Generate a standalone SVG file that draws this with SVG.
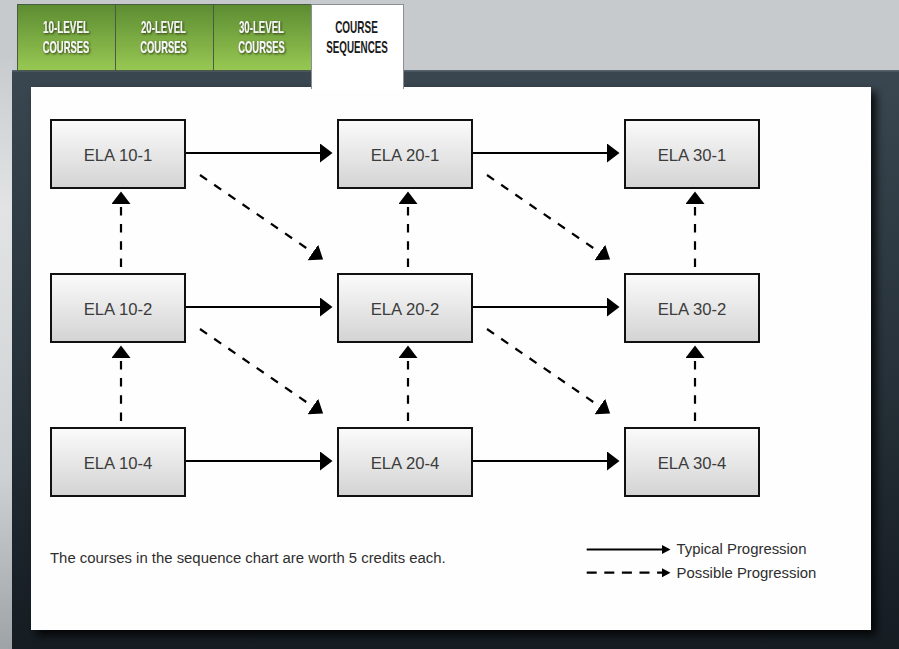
<svg xmlns="http://www.w3.org/2000/svg" width="899" height="649" viewBox="0 0 899 649">
<defs>
  <linearGradient id="bgLeft" x1="0" y1="0" x2="0" y2="1">
    <stop offset="0" stop-color="#c9ccce"/>
    <stop offset="0.25" stop-color="#e1e3e5"/>
    <stop offset="0.7" stop-color="#cfd2d4"/>
    <stop offset="1" stop-color="#9ea3a7"/>
  </linearGradient>
  <linearGradient id="dark" x1="0" y1="0" x2="0" y2="1">
    <stop offset="0" stop-color="#3a4750"/>
    <stop offset="0.5" stop-color="#27323a"/>
    <stop offset="1" stop-color="#151c22"/>
  </linearGradient>
  <linearGradient id="green" x1="0" y1="0" x2="0" y2="1">
    <stop offset="0" stop-color="#5c8c31"/>
    <stop offset="1" stop-color="#98c853"/>
  </linearGradient>
  <linearGradient id="boxfill" x1="0" y1="0" x2="0" y2="1">
    <stop offset="0" stop-color="#fbfbfb"/>
    <stop offset="1" stop-color="#d3d3d3"/>
  </linearGradient>
  <filter id="panelShadow" x="-5%" y="-5%" width="115%" height="115%">
    <feDropShadow dx="5" dy="5" stdDeviation="4" flood-color="#000" flood-opacity="0.85"/>
  </filter>
  <filter id="txtShadow" x="-10%" y="-20%" width="130%" height="150%">
    <feDropShadow dx="1" dy="1" stdDeviation="0.8" flood-color="#1c2a10" flood-opacity="0.9"/>
  </filter>
  <marker id="head" markerUnits="userSpaceOnUse" markerWidth="13" markerHeight="19" refX="0" refY="9.5" orient="auto">
    <path d="M0,0 L12.5,9.5 L0,19 Z" fill="#000"/>
  </marker>
  <marker id="headSmall" markerUnits="userSpaceOnUse" markerWidth="9" markerHeight="10" refX="0" refY="5" orient="auto">
    <path d="M0,0.5 L8.5,5 L0,9.5 Z" fill="#000"/>
  </marker>
  <style>
    .tabtxt { font-family: "Liberation Sans", Arial, sans-serif; font-weight: bold; font-size: 17px; text-anchor: middle; }
    .tabg { fill: #f6f6f6; filter: url(#txtShadow); }
    .tabw { fill: #1a1a1a; }
    .box { fill: url(#boxfill); stroke: #111; stroke-width: 2; }
    .lbl { font-family: "Liberation Sans", Arial, sans-serif; font-size: 16.7px; fill: #3c3c3c; text-anchor: middle; }
    .solid { stroke: #000; stroke-width: 2.2; fill: none; marker-end: url(#head); }
    .dash { stroke: #000; stroke-width: 2.2; fill: none; stroke-dasharray: 8.5 8.7; marker-end: url(#head); }
    .note { font-family: "Liberation Sans", Arial, sans-serif; font-size: 14.9px; fill: #2e2e2e; }
  </style>
</defs>

<!-- page background -->
<rect x="0" y="0" width="899" height="649" fill="#c7cacd"/>
<rect x="0" y="60" width="14" height="589" fill="url(#bgLeft)"/>

<!-- dark panel -->
<rect x="12" y="70" width="887" height="579" fill="url(#dark)"/>
<rect x="12" y="70" width="887" height="1.5" fill="#56636c"/>

<!-- tabs -->
<g id="tab-10">
  <rect x="17.5" y="4.5" width="98" height="66" fill="url(#green)" stroke="#4b5a44" stroke-width="1"/>
  <text class="tabtxt tabg" x="66" y="32.7" textLength="46" lengthAdjust="spacingAndGlyphs">10-LEVEL</text>
  <text class="tabtxt tabg" x="66" y="52.7" textLength="46.5" lengthAdjust="spacingAndGlyphs">COURSES</text>
</g>
<g id="tab-20">
  <rect x="115.5" y="4.5" width="98" height="66" fill="url(#green)" stroke="#4b5a44" stroke-width="1"/>
  <text class="tabtxt tabg" x="163.5" y="32.7" textLength="45" lengthAdjust="spacingAndGlyphs">20-LEVEL</text>
  <text class="tabtxt tabg" x="163.5" y="52.7" textLength="46.5" lengthAdjust="spacingAndGlyphs">COURSES</text>
</g>
<g id="tab-30">
  <rect x="213.5" y="4.5" width="98" height="66" fill="url(#green)" stroke="#4b5a44" stroke-width="1"/>
  <text class="tabtxt tabg" x="261.5" y="32.7" textLength="45" lengthAdjust="spacingAndGlyphs">30-LEVEL</text>
  <text class="tabtxt tabg" x="261.5" y="52.7" textLength="46.5" lengthAdjust="spacingAndGlyphs">COURSES</text>
</g>

<!-- white content panel -->
<rect x="31" y="87" width="840" height="543" fill="#fefefe" filter="url(#panelShadow)"/>

<g id="tab-seq">
  <rect x="311.5" y="4.5" width="92" height="84" fill="#ffffff" stroke="#8a8f93" stroke-width="1"/>
  <rect x="312" y="80" width="91" height="10" fill="#ffffff"/>
  <text class="tabtxt tabw" x="356.5" y="32.7" textLength="42.7" lengthAdjust="spacingAndGlyphs">COURSE</text>
  <text class="tabtxt tabw" x="357" y="52.7" textLength="61.7" lengthAdjust="spacingAndGlyphs">SEQUENCES</text>
</g>

<!-- connectors -->
<g id="connectors">
  <!-- typical (solid) -->
  <path class="solid" d="M186,153 H320"/>
  <path class="solid" d="M473,153 H607"/>
  <path class="solid" d="M186,307 H320"/>
  <path class="solid" d="M473,307 H607"/>
  <path class="solid" d="M186,461 H320"/>
  <path class="solid" d="M473,461 H607"/>
  <!-- possible (dashed) vertical -->
  <path class="dash" d="M121,267 V204"/>
  <path class="dash" d="M408,267 V204"/>
  <path class="dash" d="M695,267 V204"/>
  <path class="dash" d="M121,421 V358"/>
  <path class="dash" d="M408,421 V358"/>
  <path class="dash" d="M695,421 V358"/>
  <!-- possible (dashed) diagonal -->
  <path class="dash" d="M200,175 L312.8,252.5"/>
  <path class="dash" d="M487,175 L599.8,252.5"/>
  <path class="dash" d="M200,329 L312.8,406.5"/>
  <path class="dash" d="M487,329 L599.8,406.5"/>
  <!-- legend -->
  <path d="M586.7,549.5 H662" stroke="#000" stroke-width="2.2" fill="none" marker-end="url(#headSmall)"/>
  <path d="M586.7,572.7 H662" stroke="#000" stroke-width="2.2" fill="none" stroke-dasharray="10 7.6" marker-end="url(#headSmall)"/>
</g>

<!-- nodes -->
<g id="ela-10-1"><rect class="box" x="51" y="120" width="134" height="68"/><text class="lbl" x="118" y="160.5">ELA 10-1</text></g>
<g id="ela-20-1"><rect class="box" x="338" y="120" width="134" height="68"/><text class="lbl" x="405" y="160.5">ELA 20-1</text></g>
<g id="ela-30-1"><rect class="box" x="625" y="120" width="134" height="68"/><text class="lbl" x="692" y="160.5">ELA 30-1</text></g>
<g id="ela-10-2"><rect class="box" x="51" y="274" width="134" height="68"/><text class="lbl" x="118" y="314.5">ELA 10-2</text></g>
<g id="ela-20-2"><rect class="box" x="338" y="274" width="134" height="68"/><text class="lbl" x="405" y="314.5">ELA 20-2</text></g>
<g id="ela-30-2"><rect class="box" x="625" y="274" width="134" height="68"/><text class="lbl" x="692" y="314.5">ELA 30-2</text></g>
<g id="ela-10-4"><rect class="box" x="51" y="428" width="134" height="68"/><text class="lbl" x="118" y="468.5">ELA 10-4</text></g>
<g id="ela-20-4"><rect class="box" x="338" y="428" width="134" height="68"/><text class="lbl" x="405" y="468.5">ELA 20-4</text></g>
<g id="ela-30-4"><rect class="box" x="625" y="428" width="134" height="68"/><text class="lbl" x="692" y="468.5">ELA 30-4</text></g>

<!-- notes -->
<text class="note" x="50" y="563.3">The courses in the sequence chart are worth 5 credits each.</text>
<text class="note" x="676.5" y="554">Typical Progression</text>
<text class="note" x="676.5" y="577.5">Possible Progression</text>
</svg>
